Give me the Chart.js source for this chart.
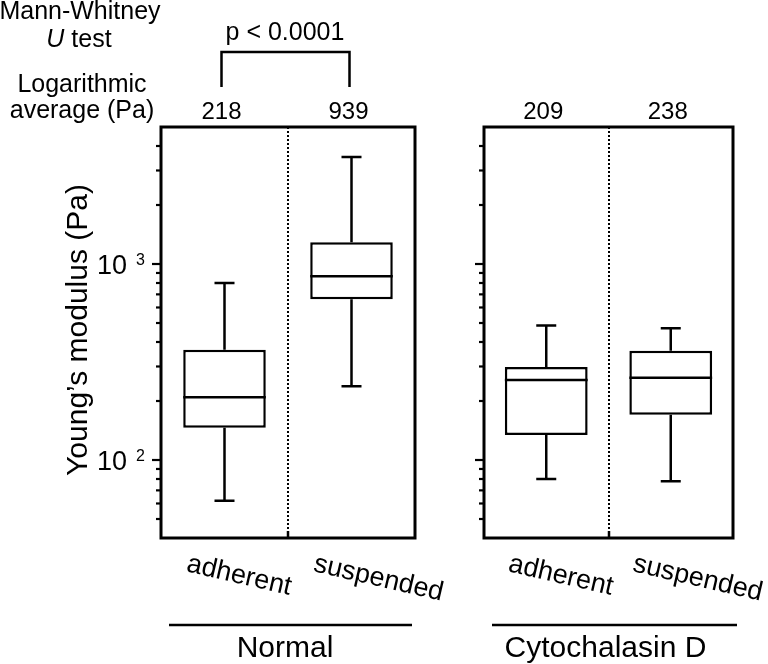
<!DOCTYPE html>
<html><head><meta charset="utf-8">
<script src="https://cdn.jsdelivr.net/npm/chart.js@4.4.1/dist/chart.umd.min.js"></script>
<style>
html,body{margin:0;padding:0;background:#fff;}
#wrap{position:relative;width:768px;height:664px;overflow:hidden;background:#fff;}
canvas{position:absolute;top:0;left:0;}
</style></head><body>
<div id="wrap">
<canvas id="c1" width="768" height="664"></canvas>
<canvas id="c2" width="768" height="664"></canvas>
</div>
<script>
// ---- data ----
const categories = ['adherent', 'suspended'];
const groupNames = ['Normal', 'Cytochalasin D'];

const normalMin    = [62, 238];
const normalQ1     = [146, 661];
const normalMedian = [209, 865];
const normalQ3     = [365, 1291];
const normalMax    = [800, 3520];
const normalLogAvg = [218, 939];

const cytoMin    = [80, 78];
const cytoQ1     = [134, 170];
const cytoMedian = [256, 263];
const cytoQ3     = [298, 361];
const cytoMax    = [486, 470];
const cytoLogAvg = [209, 238];

const yMin = 40, yMax = 5000;
const yTickLabels = [100, 1000];
const pValueText = 'p < 0.0001';

const FONT = '"Liberation Sans", Arial, Helvetica, sans-serif';

function makePlugin(p) {
  return {
    id: 'boxDecor',
    afterDatasetsDraw(chart) {
      const ctx = chart.ctx;
      const ys = chart.scales.y;
      const meta = chart.getDatasetMeta(0);
      ctx.save();
      ctx.strokeStyle = '#000';
      ctx.lineWidth = 2.5;
      ctx.lineCap = 'butt';
      meta.data.forEach((el, i) => {
        const x = el.x, hw = el.width / 2, cap = 10;
        const yMed = ys.getPixelForValue(p.median[i]);
        const yQ1 = ys.getPixelForValue(p.q1[i]);
        const yQ3 = ys.getPixelForValue(p.q3[i]);
        const yLo = ys.getPixelForValue(p.min[i]);
        const yHi = ys.getPixelForValue(p.max[i]);
        ctx.beginPath();
        ctx.moveTo(x - hw, yMed); ctx.lineTo(x + hw, yMed);
        ctx.moveTo(x, yQ3); ctx.lineTo(x, yHi);
        ctx.moveTo(x - cap, yHi); ctx.lineTo(x + cap, yHi);
        ctx.moveTo(x, yQ1); ctx.lineTo(x, yLo);
        ctx.moveTo(x - cap, yLo); ctx.lineTo(x + cap, yLo);
        ctx.stroke();
      });
      ctx.restore();
    },
    afterDraw(chart) {
      const ctx = chart.ctx;
      const a = chart.chartArea;
      const ys = chart.scales.y, xs = chart.scales.x;
      const x0 = xs.getPixelForValue(0), x1 = xs.getPixelForValue(1);
      ctx.save();
      ctx.strokeStyle = '#000';
      ctx.fillStyle = '#000';
      // divider (dotted)
      const xm = Math.round((x0 + x1) / 2);
      ctx.lineWidth = 2;
      ctx.setLineDash([2, 2]);
      ctx.beginPath(); ctx.moveTo(xm, a.top); ctx.lineTo(xm, a.bottom - 7); ctx.stroke();
      ctx.setLineDash([]);
      ctx.lineWidth = 2.5;
      ctx.beginPath(); ctx.moveTo(xm, a.bottom - 7); ctx.lineTo(xm, a.bottom); ctx.stroke();
      // frame
      ctx.lineWidth = 3;
      ctx.strokeRect(a.left, a.top, a.right - a.left, a.bottom - a.top);
      // y ticks
      ctx.lineWidth = 2.2;
      ys.ticks.forEach(t => {
        const v = t.value;
        if (v <= yMin || v >= yMax) return;
        const e = Math.floor(Math.log10(v) + 1e-9);
        const sig = v / Math.pow(10, e);
        if (Math.abs(sig - Math.round(sig)) > 1e-6) return;
        const major = Math.abs(sig - 1) < 1e-6;
        const y = ys.getPixelForValue(v);
        ctx.beginPath();
        ctx.moveTo(a.left - (major ? 9 : 5), y);
        ctx.lineTo(a.left, y);
        ctx.stroke();
      });
      // y tick labels (10^n)
      if (p.showY) {
        yTickLabels.forEach(v => {
          const y = ys.getPixelForValue(v);
          ctx.font = '27px ' + FONT;
          ctx.textAlign = 'right';
          ctx.textBaseline = 'alphabetic';
          ctx.fillText('10', a.left - 34, y + 10);
          ctx.font = '16px ' + FONT;
          ctx.textAlign = 'left';
          ctx.fillText(String(Math.round(Math.log10(v))), a.left - 25, y + 0.5);
        });
        // y title
        ctx.save();
        ctx.translate(87, 330);
        ctx.rotate(-Math.PI / 2);
        ctx.font = '30px ' + FONT;
        ctx.textAlign = 'center';
        ctx.textBaseline = 'alphabetic';
        ctx.fillText('Young\u2019s modulus (Pa)', 0, 0);
        ctx.restore();
        // header texts
        ctx.font = '25px ' + FONT;
        ctx.textAlign = 'center';
        ctx.fillText('Mann-Whitney', 80, 19);
        // "U test" with italic U
        ctx.font = 'italic 25px ' + FONT;
        const wU = ctx.measureText('U').width;
        ctx.font = '25px ' + FONT;
        const wT = ctx.measureText(' test').width;
        const sx = 79 - (wU + wT) / 2;
        ctx.textAlign = 'left';
        ctx.font = 'italic 25px ' + FONT;
        ctx.fillText('U', sx, 47);
        ctx.font = '25px ' + FONT;
        ctx.fillText(' test', sx + wU, 47);
        ctx.textAlign = 'center';
        ctx.fillText('Logarithmic', 82, 92);
        ctx.fillText('average (Pa)', 82, 118);
        // significance bracket
        ctx.fillText(pValueText, (x0 + x1) / 2 - 3, 40);
        ctx.lineWidth = 2.5;
        ctx.beginPath();
        ctx.moveTo(x0 - 3, 87); ctx.lineTo(x0 - 3, 52); ctx.lineTo(x1 - 2, 52); ctx.lineTo(x1 - 2, 87);
        ctx.stroke();
      }
      // averages above panel
      ctx.font = '24px ' + FONT;
      ctx.textAlign = 'center';
      ctx.textBaseline = 'alphabetic';
      p.avg.forEach((v, i) => {
        ctx.fillText(String(v), xs.getPixelForValue(i) - 3, 119);
      });
      // category labels, rotated
      ctx.font = '27px ' + FONT;
      ctx.textAlign = 'left';
      categories.forEach((c, i) => {
        ctx.save();
        ctx.translate(xs.getPixelForValue(i) - 39, 571);
        ctx.rotate(13 * Math.PI / 180);
        ctx.fillText(c, 0, 0);
        ctx.restore();
      });
      // group line and name
      ctx.lineWidth = 2.5;
      ctx.beginPath();
      ctx.moveTo(a.left + 8, 625); ctx.lineTo(a.right + (p.showY ? -3 : 4), 625);
      ctx.stroke();
      ctx.font = '30px ' + FONT;
      ctx.textAlign = 'center';
      ctx.fillText(p.group, (a.left + a.right) / 2 - 3, 657);
      ctx.restore();
    }
  };
}

function makeChart(id, p, axisWidth, padRight, barPct) {
  return new Chart(document.getElementById(id), {
    type: 'bar',
    data: {
      labels: categories,
      datasets: [{
        data: categories.map((c, i) => [p.q1[i], p.q3[i]]),
        backgroundColor: 'rgba(255,255,255,1)',
        borderColor: '#000000',
        borderWidth: 2.5,
        borderSkipped: false,
        barPercentage: barPct,
        categoryPercentage: 1
      }]
    },
    options: {
      responsive: false,
      animation: false,
      events: [],
      layout: { padding: { top: 127, bottom: 126, left: 0, right: padRight } },
      plugins: { legend: { display: false }, tooltip: { enabled: false } },
      scales: {
        x: { type: 'category', display: false, offset: true },
        y: {
          type: 'logarithmic', min: yMin, max: yMax,
          display: true,
          ticks: { display: false },
          grid: { display: false },
          border: { display: false },
          afterFit: s => { s.width = axisWidth; }
        }
      }
    },
    plugins: [makePlugin(p)]
  });
}

makeChart('c1', {
  showY: true, group: groupNames[0],
  min: normalMin, q1: normalQ1, median: normalMedian, q3: normalQ3, max: normalMax, avg: normalLogAvg
}, 161, 768 - 415, 0.65);

makeChart('c2', {
  showY: false, group: groupNames[1],
  min: cytoMin, q1: cytoQ1, median: cytoMedian, q3: cytoQ3, max: cytoMax, avg: cytoLogAvg
}, 484, 35, 0.665);
</script>
</body></html>
